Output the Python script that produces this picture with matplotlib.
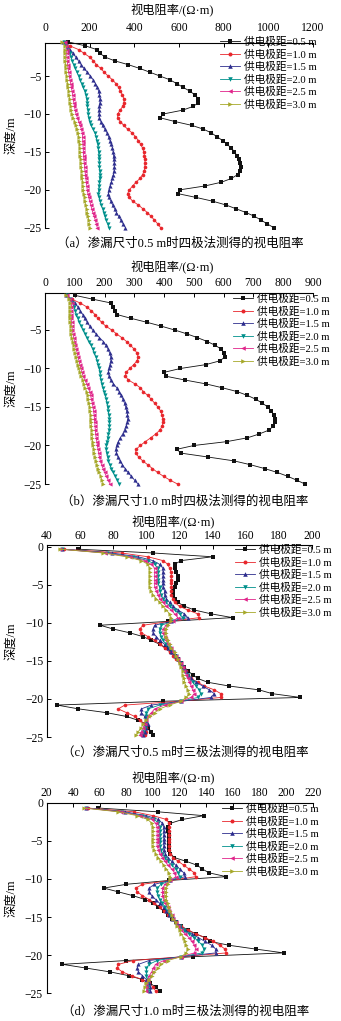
import matplotlib
matplotlib.use("Agg")
import matplotlib.pyplot as plt

FONT = ["Liberation Serif", "Noto Sans CJK SC"]
plt.rcParams["font.family"] = FONT
plt.rcParams["axes.unicode_minus"] = True

# ---------------- data ----------------
labels = ["供电极距=0.5 m", "供电极距=1.0 m", "供电极距=1.5 m",
          "供电极距=2.0 m", "供电极距=2.5 m", "供电极距=3.0 m"]

depth_ab = [-0.5, -1.0, -1.5, -2.0, -2.5, -3.0, -3.5, -4.0, -4.5, -5.0,
            -5.5, -6.0, -6.5, -7.0, -7.5, -8.0, -8.5, -9.0, -9.5, -10.0,
            -10.5, -11.0, -11.5, -12.0, -12.5, -13.0, -13.5, -14.0, -14.5, -15.0,
            -15.5, -16.0, -16.5, -17.0, -17.5, -18.0, -18.5, -19.0, -19.5, -20.0,
            -20.5, -21.0, -21.5, -22.0, -22.5, -23.0, -23.5, -24.0, -24.5, -25.0]

depth_c = [-0.3, -0.8, -1.3, -1.8, -2.3, -2.8, -3.3, -3.8, -4.3, -4.8,
           -5.3, -5.8, -6.3, -6.8, -7.3, -7.8, -8.3, -8.8, -9.3, -9.8,
           -10.3, -10.8, -11.3, -11.8, -12.3, -12.8, -13.3, -13.8, -14.3, -14.8,
           -15.3, -15.8, -16.3, -16.8, -17.3, -17.8, -18.3, -18.8, -19.3, -19.8,
           -20.3, -20.8, -21.3, -21.8, -22.3, -22.8, -23.3, -23.8, -24.3, -24.8]

depth_d = [-0.7, -1.2, -1.7, -2.2, -2.7, -3.2, -3.7, -4.2, -4.7, -5.2,
           -5.7, -6.2, -6.7, -7.2, -7.7, -8.2, -8.7, -9.2, -9.7, -10.2,
           -10.7, -11.2, -11.7, -12.2, -12.7, -13.2, -13.7, -14.2, -14.7, -15.2,
           -15.7, -16.2, -16.7, -17.2, -17.7, -18.2, -18.7, -19.2, -19.7, -20.2,
           -20.7, -21.2, -21.7, -22.2, -22.7, -23.2, -23.7, -24.2, -24.7]

# (a) four-electrode method, leak size 0.5 m
a_05 = [104, 179, 231, 246, 269, 313, 373, 425, 470, 515, 560, 590, 619, 649, 672, 687, 687, 664, 616, 530,
        515, 582, 657, 709, 745, 770, 795, 815, 835, 848, 860, 868, 874, 876, 873, 862, 835, 790, 715, 605,
        594, 675, 750, 810, 855, 900, 938, 968, 995, 1025]
a_10 = [85, 110, 150, 175, 200, 217, 230, 250, 265, 283, 302, 318, 330, 338, 347, 353, 354, 348, 336, 326,
        325, 338, 352, 370, 390, 405, 418, 428, 437, 442, 445, 447, 448, 447, 444, 437, 425, 408, 392, 378,
        370, 378, 392, 418, 438, 458, 475, 490, 505, 518]
a_15 = [82, 100, 112, 125, 138, 150, 162, 175, 190, 203, 216, 226, 235, 240, 244, 246, 246, 243, 242, 242,
        243, 250, 258, 268, 278, 285, 291, 297, 302, 305, 307, 309, 310, 310, 309, 306, 302, 297, 291, 286,
        284, 287, 295, 303, 312, 320, 330, 340, 350, 360]
a_20 = [85, 95, 104, 110, 116, 122, 128, 136, 143, 150, 157, 164, 171, 178, 183, 186, 189, 190, 192, 193,
        195, 200, 206, 215, 224, 229, 232, 236, 238, 240, 241, 242, 243, 244, 245, 246, 245, 244, 242, 240,
        239, 242, 246, 252, 258, 263, 268, 274, 280, 287]
a_25 = [90, 96, 97, 97, 98, 99, 101, 103, 106, 109, 112, 115, 118, 121, 124, 126, 129, 132, 135, 139,
        145, 151, 157, 163, 167, 168, 169, 170, 171, 172, 173, 174, 176, 177, 179, 181, 183, 185, 187, 189,
        192, 196, 200, 205, 209, 214, 220, 225, 230, 234]
a_30 = [78, 88, 90, 90, 91, 91, 92, 93, 95, 97, 99, 101, 104, 106, 108, 110, 113, 115, 118, 121,
        127, 133, 139, 145, 149, 151, 153, 155, 156, 157, 158, 160, 161, 163, 164, 166, 167, 169, 170, 172,
        174, 177, 180, 183, 186, 190, 193, 196, 199, 202]

# (b) four-electrode method, leak size 1.0 m
b_05 = [100, 160, 222, 228, 236, 242, 290, 342, 390, 435, 476, 512, 545, 572, 592, 602, 604, 588, 540, 455,
        400, 405, 470, 540, 595, 645, 680, 708, 730, 748, 760, 768, 772, 771, 766, 752, 720, 680, 610, 500,
        442, 458, 548, 635, 690, 738, 780, 815, 845, 873]
b_10 = [70, 90, 118, 140, 155, 168, 178, 190, 204, 224, 240, 258, 274, 287, 300, 309, 313, 309, 298, 285,
        272, 270, 280, 302, 320, 330, 345, 357, 368, 379, 388, 393, 396, 397, 393, 386, 372, 355, 337, 320,
        306, 304, 315, 328, 345, 361, 378, 398, 420, 445]
b_15 = [72, 88, 101, 110, 118, 127, 134, 142, 150, 160, 171, 183, 196, 205, 212, 217, 221, 221, 218, 215,
        213, 215, 221, 230, 241, 249, 256, 262, 267, 271, 274, 277, 278, 276, 272, 267, 261, 253, 246, 241,
        238, 240, 245, 252, 260, 269, 279, 290, 301, 312]
b_20 = [75, 85, 93, 98, 102, 105, 110, 115, 122, 129, 135, 141, 148, 155, 160, 166, 171, 175, 179, 182,
        184, 186, 188, 190, 194, 199, 203, 206, 208, 210, 212, 214, 216, 216, 216, 215, 213, 210, 208, 206,
        205, 207, 210, 213, 218, 223, 229, 236, 243, 250]
b_25 = [75, 85, 90, 88, 87, 87, 88, 89, 90, 92, 94, 96, 99, 102, 105, 108, 111, 114, 117, 120,
        124, 128, 134, 140, 145, 150, 153, 156, 159, 161, 163, 165, 166, 167, 168, 169, 170, 172, 174, 176,
        178, 180, 183, 186, 190, 195, 200, 206, 212, 218]
b_30 = [72, 82, 85, 84, 83, 83, 84, 85, 86, 87, 88, 90, 93, 96, 99, 102, 105, 108, 111, 114,
        118, 122, 127, 131, 135, 140, 143, 146, 148, 150, 152, 153, 154, 155, 156, 157, 158, 159, 160, 162,
        164, 166, 169, 172, 175, 179, 183, 187, 191, 196]

# (c) three-electrode method, leak size 0.5 m
c_05 = [59, 104, 140, 121, 117, 117, 118, 119, 119, 118, 117, 116, 116, 117, 119, 123, 129, 139, 152, 113,
        72, 80, 90, 98, 103, 108, 112, 115, 117, 119, 121, 123, 125, 128, 131, 137, 150, 168, 176, 193,
        110, 46, 59, 76, 88, 95, 100, 101, 103, 104]
c_10 = [50, 85, 101, 110, 113, 114, 115, 115, 115, 115, 115, 115, 115, 116, 117, 120, 125, 131, 132, 114,
        98, 96, 97, 101, 105, 108, 111, 114, 116, 118, 120, 122, 124, 125, 127, 131, 135, 141, 145, 145,
        120, 87, 83, 88, 93, 96, 99, 100, 100, 99]
c_15 = [49, 79, 95, 104, 108, 110, 110, 110, 110, 110, 110, 111, 111, 112, 114, 116, 119, 123, 125, 115,
        105, 104, 104, 106, 108, 111, 113, 115, 117, 119, 121, 122, 124, 125, 127, 130, 134, 138, 141, 139,
        121, 103, 97, 97, 99, 100, 101, 100, 99, 98]
c_20 = [49, 76, 92, 101, 105, 107, 107, 107, 107, 107, 108, 108, 109, 110, 112, 114, 117, 120, 122, 116,
        109, 108, 108, 109, 110, 112, 114, 116, 118, 119, 121, 122, 123, 125, 126, 128, 130, 132, 133, 131,
        121, 108, 101, 100, 100, 100, 100, 99, 98, 97]
c_25 = [48, 75, 90, 99, 103, 105, 105, 105, 105, 105, 105, 106, 107, 108, 110, 112, 115, 117, 119, 116,
        112, 110, 110, 111, 112, 113, 115, 116, 118, 119, 121, 122, 123, 124, 125, 126, 127, 128, 129, 127,
        121, 111, 105, 103, 101, 100, 99, 98, 97, 96]
c_30 = [48, 74, 88, 97, 101, 102, 102, 102, 102, 102, 102, 103, 104, 106, 108, 110, 112, 114, 115, 115,
        113, 112, 112, 112, 113, 114, 115, 117, 118, 119, 120, 121, 122, 122, 123, 123, 124, 125, 126, 124,
        121, 114, 108, 105, 102, 100, 98, 97, 95, 94]

# (d) three-electrode method, leak size 1.0 m
d_05 = [59, 104, 138, 122, 113, 111, 111, 112, 112, 112, 112, 112, 113, 116, 125, 133, 137, 142, 155, 112,
        80, 63, 74, 85, 94, 100, 104, 108, 111, 114, 117, 121, 126, 132, 139, 143, 157, 177, 198, 130,
        80, 32, 50, 68, 82, 92, 98, 102, 105]
d_10 = [51, 86, 100, 110, 112, 112, 112, 112, 112, 112, 112, 112, 113, 115, 119, 123, 127, 131, 132, 113,
        92, 87, 88, 92, 97, 101, 105, 108, 111, 114, 117, 121, 126, 132, 139, 145, 150, 154, 155, 122,
        85, 74, 73, 77, 84, 92, 97, 100, 102]
d_15 = [50, 79, 95, 104, 107, 108, 108, 108, 108, 108, 108, 108, 109, 111, 114, 117, 120, 123, 124, 113,
        101, 97, 97, 99, 102, 105, 108, 110, 112, 114, 117, 120, 124, 129, 134, 139, 144, 147, 147, 121,
        97, 89, 88, 89, 92, 95, 97, 98, 98]
d_20 = [50, 77, 92, 101, 104, 105, 105, 105, 105, 105, 105, 106, 107, 109, 111, 114, 117, 119, 120, 113,
        106, 103, 103, 104, 105, 107, 109, 111, 113, 115, 117, 120, 123, 127, 131, 134, 137, 138, 137, 121,
        103, 97, 95, 95, 95, 96, 96, 96, 96]
d_25 = [49, 76, 90, 99, 102, 103, 103, 103, 103, 103, 103, 104, 105, 107, 109, 111, 114, 116, 117, 113,
        109, 107, 107, 107, 108, 109, 111, 112, 114, 115, 117, 119, 121, 124, 127, 129, 131, 132, 131, 121,
        108, 102, 100, 99, 97, 96, 95, 95, 95]
d_30 = [48, 74, 88, 96, 99, 100, 100, 100, 100, 100, 100, 101, 102, 104, 106, 108, 110, 112, 113, 113,
        111, 110, 110, 110, 110, 111, 112, 113, 114, 115, 117, 118, 120, 121, 123, 124, 125, 126, 125, 121,
        111, 106, 104, 101, 99, 97, 95, 94, 93]

xticks_a = [0, 200, 400, 600, 800, 1000, 1200]
xticks_b = [0, 100, 200, 300, 400, 500, 600, 700, 800, 900]
xticks_c = [40, 60, 80, 100, 120, 140, 160, 180, 200]
xticks_d = [20, 40, 60, 80, 100, 120, 140, 160, 180, 200, 220]
yticks_ab = [-5, -10, -15, -20, -25]
yticks_cd = [0, -5, -10, -15, -20, -25]

captions = ["（a）渗漏尺寸0.5 m时四极法测得的视电阻率",
            "（b）渗漏尺寸1.0 m时四极法测得的视电阻率",
            "（c）渗漏尺寸0.5 m时三极法测得的视电阻率",
            "（d）渗漏尺寸1.0 m时三极法测得的视电阻率"]

# ---------------- styling ----------------
styles = [
    dict(color="#111111", marker="s", ms=2.6, lw=0.6),
    dict(color="#e8262c", marker="o", ms=2.6, lw=0.6),
    dict(color="#2e2e8e", marker="^", ms=3.0, lw=0.6),
    dict(color="#00908c", marker="v", ms=3.0, lw=0.6),
    dict(color="#e0248a", marker="<", ms=3.0, lw=0.6),
    dict(color="#a6a82a", marker=">", ms=3.0, lw=0.6),
]

W, H = 341.0, 1021.0
fig = plt.figure(figsize=(W / 100, H / 100), dpi=100)


def add_panel(box, xlim, xticks, ylim, yticks, depth, series,
              tick_pad, title_gap, leg_xy, cap, cap_xy):
    left, top, right, bottom = box
    ax = fig.add_axes([left / W, 1 - bottom / H, (right - left) / W, (bottom - top) / H])
    for vals, lab, st in zip(series, labels, styles):
        ax.plot(vals, depth, color=st["color"], lw=st["lw"], marker=st["marker"],
                ms=st["ms"], mew=0, label=lab, clip_on=False, zorder=3)
    ax.set_xlim(*xlim)
    ax.set_ylim(*ylim)
    ax.set_xticks(xticks)
    ax.set_yticks(yticks)
    ax.xaxis.tick_top()
    for s in ("right", "bottom"):
        ax.spines[s].set_visible(False)
    for s in ("left", "top"):
        ax.spines[s].set_linewidth(0.8)
    ax.tick_params(axis="both", direction="in", length=3, width=0.7, labelsize=8.4)
    ax.tick_params(axis="x", pad=tick_pad)
    ax.tick_params(axis="y", pad=2.5)
    # axis titles
    fig.text((left + right) / 2 / W - 0.02, 1 - (top - title_gap) / H, "视电阻率/(Ω·m)",
             ha="center", va="center", fontsize=8.8)
    fig.text(11 / W, 1 - ((top + bottom) / 2) / H, "深度/m", rotation=90,
             ha="center", va="center", fontsize=8.8)
    ax.legend(loc="upper left", bbox_to_anchor=(leg_xy[0] / W, 1 - leg_xy[1] / H),
              bbox_transform=fig.transFigure, frameon=False, fontsize=7.7,
              handlelength=1.9, handletextpad=0.3, labelspacing=0.22,
              borderpad=0, borderaxespad=0, markerscale=1.1)
    fig.text(cap_xy[0] / W, 1 - cap_xy[1] / H, cap, ha="center", va="center", fontsize=9.0)
    return ax


add_panel((45, 42.7, 313, 227.7), (0, 1200), xticks_a, (-25, -0.6), yticks_ab, depth_ab,
          [a_05, a_10, a_15, a_20, a_25, a_30], 6.5, 31.7, (220, 37), captions[0], (180, 244))
add_panel((45, 293, 313, 484), (0, 900), xticks_b, (-25, -0.2), yticks_ab, depth_ab,
          [b_05, b_10, b_15, b_20, b_25, b_30], 2.8, 25, (233, 294), captions[1], (185, 502))
add_panel((47, 545, 312, 737), (40, 200), xticks_c, (-25, 0.25), yticks_cd, depth_c,
          [c_05, c_10, c_15, c_20, c_25, c_30], 2.0, 22, (235, 545), captions[2], (185, 753))
add_panel((46.5, 802.7, 313, 993.3), (20, 220), xticks_d, (-25, 0), yticks_cd, depth_d,
          [d_05, d_10, d_15, d_20, d_25, d_30], 2.8, 24, (222, 804), captions[3], (186, 1012))

fig.savefig("out.png", dpi=100)
